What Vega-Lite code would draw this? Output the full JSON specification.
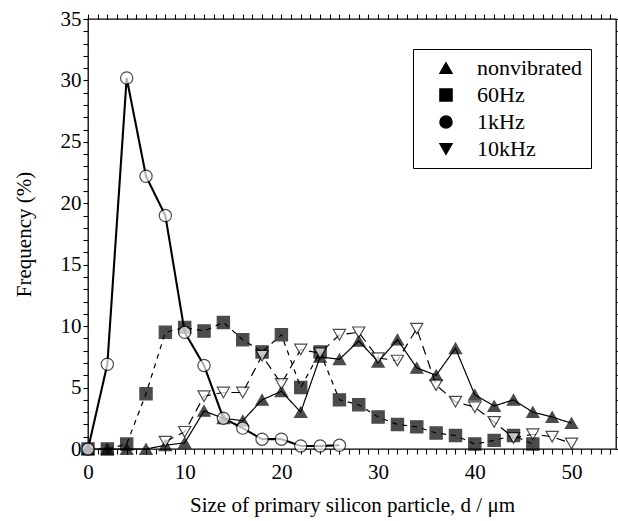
{
  "$schema": "https://vega.github.io/schema/vega-lite/v6.json",
  "width": 528,
  "height": 430,
  "autosize": {"type": "none"},
  "padding": {"left": 88, "top": 19, "right": 2, "bottom": 72},
  "background": "white",
  "config": {
    "view": {"stroke": "black", "strokeWidth": 1.3},
    "font": "Liberation Serif",
    "axis": {
      "domain": false,
      "grid": false,
      "tickColor": "black",
      "tickWidth": 1.1,
      "tickSize": 5,
      "labelFont": "Liberation Serif",
      "labelFontSize": 21,
      "labelColor": "black",
      "titleFont": "Liberation Serif",
      "titleFontSize": 21,
      "titleFontWeight": "normal",
      "titleColor": "black"
    }
  },
  "data": {
    "values": [
      {"series": "nonvibrated", "x": 0, "y": 0},
      {"series": "nonvibrated", "x": 2, "y": 0},
      {"series": "nonvibrated", "x": 4, "y": 0},
      {"series": "nonvibrated", "x": 6, "y": 0},
      {"series": "nonvibrated", "x": 8, "y": 0.3},
      {"series": "nonvibrated", "x": 10, "y": 0.5},
      {"series": "nonvibrated", "x": 12, "y": 3.1},
      {"series": "nonvibrated", "x": 14, "y": 2.5},
      {"series": "nonvibrated", "x": 16, "y": 2.3},
      {"series": "nonvibrated", "x": 18, "y": 4.0},
      {"series": "nonvibrated", "x": 20, "y": 4.7},
      {"series": "nonvibrated", "x": 22, "y": 3.0},
      {"series": "nonvibrated", "x": 24, "y": 7.5},
      {"series": "nonvibrated", "x": 26, "y": 7.3},
      {"series": "nonvibrated", "x": 28, "y": 8.8},
      {"series": "nonvibrated", "x": 30, "y": 7.1},
      {"series": "nonvibrated", "x": 32, "y": 8.9},
      {"series": "nonvibrated", "x": 34, "y": 6.6},
      {"series": "nonvibrated", "x": 36, "y": 6.0},
      {"series": "nonvibrated", "x": 38, "y": 8.2},
      {"series": "nonvibrated", "x": 40, "y": 4.4},
      {"series": "nonvibrated", "x": 42, "y": 3.5},
      {"series": "nonvibrated", "x": 44, "y": 4.0},
      {"series": "nonvibrated", "x": 46, "y": 3.0},
      {"series": "nonvibrated", "x": 48, "y": 2.6},
      {"series": "nonvibrated", "x": 50, "y": 2.1},
      {"series": "60Hz", "x": 0, "y": 0},
      {"series": "60Hz", "x": 2, "y": 0},
      {"series": "60Hz", "x": 4, "y": 0.4},
      {"series": "60Hz", "x": 6, "y": 4.5},
      {"series": "60Hz", "x": 8, "y": 9.5},
      {"series": "60Hz", "x": 10, "y": 9.9},
      {"series": "60Hz", "x": 12, "y": 9.6},
      {"series": "60Hz", "x": 14, "y": 10.3},
      {"series": "60Hz", "x": 16, "y": 8.9},
      {"series": "60Hz", "x": 18, "y": 7.9},
      {"series": "60Hz", "x": 20, "y": 9.3},
      {"series": "60Hz", "x": 22, "y": 5.0},
      {"series": "60Hz", "x": 24, "y": 7.9},
      {"series": "60Hz", "x": 26, "y": 4.0},
      {"series": "60Hz", "x": 28, "y": 3.6},
      {"series": "60Hz", "x": 30, "y": 2.6},
      {"series": "60Hz", "x": 32, "y": 2.0},
      {"series": "60Hz", "x": 34, "y": 1.8},
      {"series": "60Hz", "x": 36, "y": 1.3},
      {"series": "60Hz", "x": 38, "y": 1.1},
      {"series": "60Hz", "x": 40, "y": 0.4},
      {"series": "60Hz", "x": 42, "y": 0.7},
      {"series": "60Hz", "x": 44, "y": 1.1},
      {"series": "60Hz", "x": 46, "y": 0.4},
      {"series": "1kHz", "x": 0, "y": 0},
      {"series": "1kHz", "x": 2, "y": 6.9},
      {"series": "1kHz", "x": 4, "y": 30.2},
      {"series": "1kHz", "x": 6, "y": 22.2},
      {"series": "1kHz", "x": 8, "y": 19.0},
      {"series": "1kHz", "x": 10, "y": 9.5},
      {"series": "1kHz", "x": 12, "y": 6.8},
      {"series": "1kHz", "x": 14, "y": 2.5},
      {"series": "1kHz", "x": 16, "y": 1.7},
      {"series": "1kHz", "x": 18, "y": 0.8},
      {"series": "1kHz", "x": 20, "y": 0.8},
      {"series": "1kHz", "x": 22, "y": 0.25},
      {"series": "1kHz", "x": 24, "y": 0.25},
      {"series": "1kHz", "x": 26, "y": 0.3},
      {"series": "10kHz", "x": 8, "y": 0.6},
      {"series": "10kHz", "x": 10, "y": 1.4},
      {"series": "10kHz", "x": 12, "y": 4.3},
      {"series": "10kHz", "x": 14, "y": 4.6},
      {"series": "10kHz", "x": 16, "y": 4.6},
      {"series": "10kHz", "x": 18, "y": 7.6},
      {"series": "10kHz", "x": 20, "y": 5.3},
      {"series": "10kHz", "x": 22, "y": 8.1},
      {"series": "10kHz", "x": 24, "y": 7.8},
      {"series": "10kHz", "x": 26, "y": 9.3},
      {"series": "10kHz", "x": 28, "y": 9.5},
      {"series": "10kHz", "x": 30, "y": 7.4},
      {"series": "10kHz", "x": 32, "y": 7.2},
      {"series": "10kHz", "x": 34, "y": 9.8},
      {"series": "10kHz", "x": 36, "y": 5.2},
      {"series": "10kHz", "x": 38, "y": 3.85},
      {"series": "10kHz", "x": 40, "y": 3.4},
      {"series": "10kHz", "x": 42, "y": 2.2},
      {"series": "10kHz", "x": 44, "y": 0.9},
      {"series": "10kHz", "x": 46, "y": 1.2},
      {"series": "10kHz", "x": 48, "y": 1.0},
      {"series": "10kHz", "x": 50, "y": 0.45}
    ]
  },
  "layer": [
    {
      "mark": {"type": "line", "color": "black"},
      "encoding": {
        "x": {
          "field": "x", "type": "quantitative",
          "scale": {"domain": [0, 54.6], "nice": false, "zero": false},
          "axis": {
            "orient": "bottom",
            "values": [0,1,2,3,4,5,6,7,8,9,10,11,12,13,14,15,16,17,18,19,20,21,22,23,24,25,26,27,28,29,30,31,32,33,34,35,36,37,38,39,40,41,42,43,44,45,46,47,48,49,50,51,52,53,54],
            "title": "Size of primary silicon particle, d / μm",
            "labelExpr": "datum.value % 10 === 0 ? datum.label : ''",
            "labelPadding": 7,
            "labelBaseline": "top",
            "labelFlush": false,
            "labelOverlap": false,
            "titlePadding": 12,
            "encode": {"ticks": {"update": {"y2": {"signal": "datum.value % 10 === 0 ? -11 : datum.value % 5 === 0 ? -8 : -5"}}}}
          }
        },
        "y": {
          "field": "y", "type": "quantitative",
          "scale": {"domain": [0, 35], "nice": false, "zero": true},
          "axis": {
            "orient": "left",
            "values": [0,1,2,3,4,5,6,7,8,9,10,11,12,13,14,15,16,17,18,19,20,21,22,23,24,25,26,27,28,29,30,31,32,33,34,35],
            "title": "Frequency (%)",
            "labelExpr": "datum.value % 5 === 0 ? datum.label : ''",
            "labelPadding": 2,
            "labelFlush": false,
            "labelOverlap": false,
            "titlePadding": 26,
            "encode": {"ticks": {"update": {"x2": {"signal": "datum.value % 5 === 0 ? 11 : 6"}}}}
          }
        },
        "detail": {"field": "series", "type": "nominal"},
        "strokeDash": {
          "condition": [
            {"test": "datum.series === '60Hz'", "value": [5, 5]},
            {"test": "datum.series === '10kHz'", "value": [9, 6]}
          ],
          "value": [1, 0]
        },
        "strokeWidth": {
          "condition": {"test": "datum.series === '1kHz'", "value": 2.1},
          "value": 1.2
        }
      }
    },
    {
      "mark": {"type": "point", "stroke": "black", "strokeWidth": 1.2, "size": 150, "filled": false},
      "encoding": {
        "x": {
          "field": "x", "type": "quantitative",
          "axis": {
            "orient": "top",
            "values": [0,1,2,3,4,5,6,7,8,9,10,11,12,13,14,15,16,17,18,19,20,21,22,23,24,25,26,27,28,29,30,31,32,33,34,35,36,37,38,39,40,41,42,43,44,45,46,47,48,49,50,51,52,53,54],
            "title": null,
            "labels": false,
            "encode": {"ticks": {"update": {"y2": {"signal": "datum.value % 10 === 0 ? 12 : datum.value % 5 === 0 ? 8 : 5"}}}}
          }
        },
        "y": {
          "field": "y", "type": "quantitative",
          "axis": {
            "orient": "right",
            "values": [0,1,2,3,4,5,6,7,8,9,10,11,12,13,14,15,16,17,18,19,20,21,22,23,24,25,26,27,28,29,30,31,32,33,34,35],
            "title": null,
            "labels": false,
            "encode": {"ticks": {"update": {"x2": {"signal": "datum.value % 5 === 0 ? -10 : -4"}}}}
          }
        },
        "shape": {
          "field": "series", "type": "nominal",
          "scale": {"domain": ["nonvibrated", "60Hz", "1kHz", "10kHz"], "range": ["triangle-up", "square", "circle", "triangle-down"]},
          "legend": {
            "title": null,
            "orient": "none",
            "legendX": 325,
            "legendY": 30,
            "strokeColor": "black",
            "fillColor": "white",
            "padding": 8,
            "labelFont": "Liberation Serif",
            "labelFontSize": 22,
            "labelColor": "black",
            "labelLimit": 300,
            "symbolSize": 150,
            "symbolOffset": 14,
            "labelOffset": 20,
            "rowPadding": 5,
            "symbolStrokeWidth": 1.3,
            "symbolStrokeColor": "black",
            "symbolFillColor": "black",
            "symbolOpacity": 1
          }
        },
        "fill": {
          "field": "series", "type": "nominal",
          "scale": {"domain": ["1kHz", "10kHz", "nonvibrated", "60Hz"], "range": ["white", "white", "black", "black"]},
          "legend": null
        }
      }
    }
  ],
  "resolve": {"axis": {"x": "independent", "y": "independent"}}
}
